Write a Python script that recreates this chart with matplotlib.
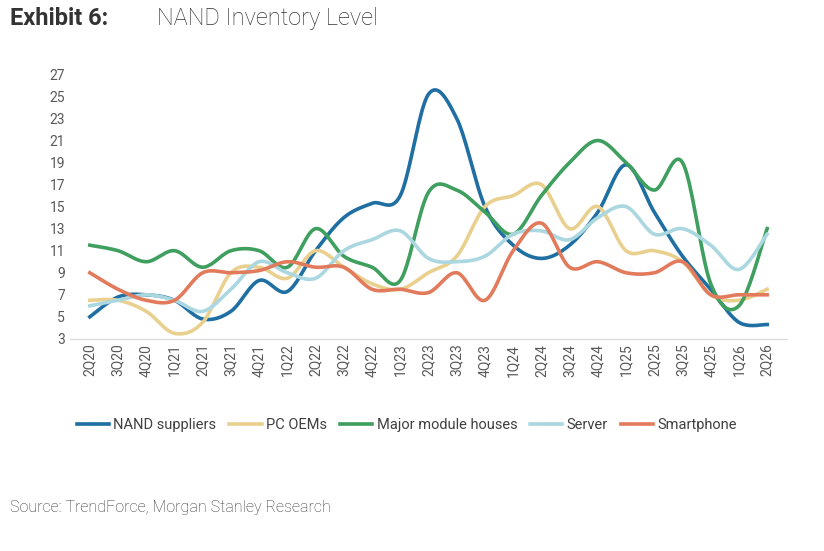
import numpy as np
import matplotlib.pyplot as plt

plt.rcParams['font.family'] = ['Roboto', 'DejaVu Sans']

quarters = ['2Q20', '3Q20', '4Q20', '1Q21', '2Q21', '3Q21', '4Q21', '1Q22', '2Q22', '3Q22', '4Q22', '1Q23',
            '2Q23', '3Q23', '4Q23', '1Q24', '2Q24', '3Q24', '4Q24', '1Q25', '2Q25', '3Q25', '4Q25', '1Q26', '2Q26']
nand_suppliers = [5, 6.8, 7, 6.5, 4.8, 5.5, 8.3, 7.3, 11, 14, 15.3, 16, 25.2, 23, 15, 11.5, 10.3, 11.5, 14.5, 18.8,
                  14.5, 10.5, 7.5, 4.5, 4.3]
pc_oems = [6.5, 6.5, 5.5, 3.5, 4.5, 9, 9.5, 8.5, 11, 9.5, 8, 7.5, 9, 10.5, 15, 16, 17, 13, 15, 11, 11, 10, 7, 6.5, 7.5]
module_houses = [11.5, 11, 10, 11, 9.5, 11, 11, 9.5, 13, 10.5, 9.5, 8.3, 16.3, 16.5, 14.5, 12.5, 16, 19, 21, 19,
                 16.5, 19, 8, 6, 13]
server = [6, 6.5, 7, 6.5, 5.5, 7.5, 10, 9, 8.5, 11, 12, 12.8, 10.3, 10, 10.5, 12.5, 12.8, 12, 14, 15, 12.5, 13,
          11.5, 9.3, 12.5]
smartphone = [9, 7.5, 6.5, 6.5, 9, 9, 9.2, 10, 9.5, 9.5, 7.5, 7.5, 7.2, 9, 6.5, 11, 13.5, 9.5, 10, 9, 9, 10, 7, 7, 7]
y_ticks = list(range(3, 28, 2))


def smooth(y, n=20):
    # Catmull-Rom style smoothing, like Excel's smoothed lines
    y = np.asarray(y, float)
    x = np.arange(len(y), dtype=float)
    px = np.concatenate([[x[0]], x, [x[-1]]])
    py = np.concatenate([[y[0]], y, [y[-1]]])
    xs, ys = [], []
    t = np.linspace(0, 1, n, endpoint=False)
    for i in range(1, len(px) - 2):
        p0, p1, p2, p3 = py[i - 1], py[i], py[i + 1], py[i + 2]
        q0, q1, q2, q3 = px[i - 1], px[i], px[i + 1], px[i + 2]
        f = lambda a, b, c, d: 0.5 * (2 * b + (-a + c) * t + (2 * a - 5 * b + 4 * c - d) * t ** 2
                                      + (-a + 3 * b - 3 * c + d) * t ** 3)
        xs.append(f(q0, q1, q2, q3))
        ys.append(f(p0, p1, p2, p3))
    xs.append([x[-1]])
    ys.append([y[-1]])
    return np.concatenate(xs), np.concatenate(ys)


fig = plt.figure(figsize=(8.24, 5.51), dpi=100)
ax = fig.add_axes([0.085, 0.385, 0.87, 0.49])

series = [
    ('NAND suppliers', nand_suppliers, '#1f6fa3'),
    ('PC OEMs', pc_oems, '#ead08f'),
    ('Major module houses', module_houses, '#3f9f5f'),
    ('Server', server, '#abd7e0'),
    ('Smartphone', smartphone, '#e27b5c'),
]
for name, vals, col in series:
    sx, sy = smooth(vals)
    ax.plot(sx, sy, color=col, lw=2.6, label=name)

ax.set_xlim(-0.7, len(quarters) - 0.3)
ax.set_ylim(3, 27.5)
ax.set_yticks(y_ticks)
ax.set_xticks(range(len(quarters)))
ax.set_xticklabels(quarters, rotation=90)
ax.tick_params(axis='both', labelsize=10, colors='#595959', length=0)
for s in ['top', 'right', 'left']:
    ax.spines[s].set_visible(False)
ax.spines['bottom'].set_color('#d9d9d9')

ax.legend(loc='upper center', bbox_to_anchor=(0.47, -0.245), ncol=5, frameon=False, fontsize=10.5,
          handlelength=2.2, columnspacing=0.9, handletextpad=0.3, labelcolor='#404040')

fig.text(0.012, 0.955, 'Exhibit 6:', fontsize=17, fontweight='bold', color='#333333')
fig.text(0.19, 0.955, 'NAND Inventory Level', fontsize=17, fontweight='light', color='#333333')
fig.text(0.012, 0.07, 'Source: TrendForce, Morgan Stanley Research', fontsize=11.5, fontweight='light',
         color='#333333')

fig.savefig('out.png', dpi=100)
